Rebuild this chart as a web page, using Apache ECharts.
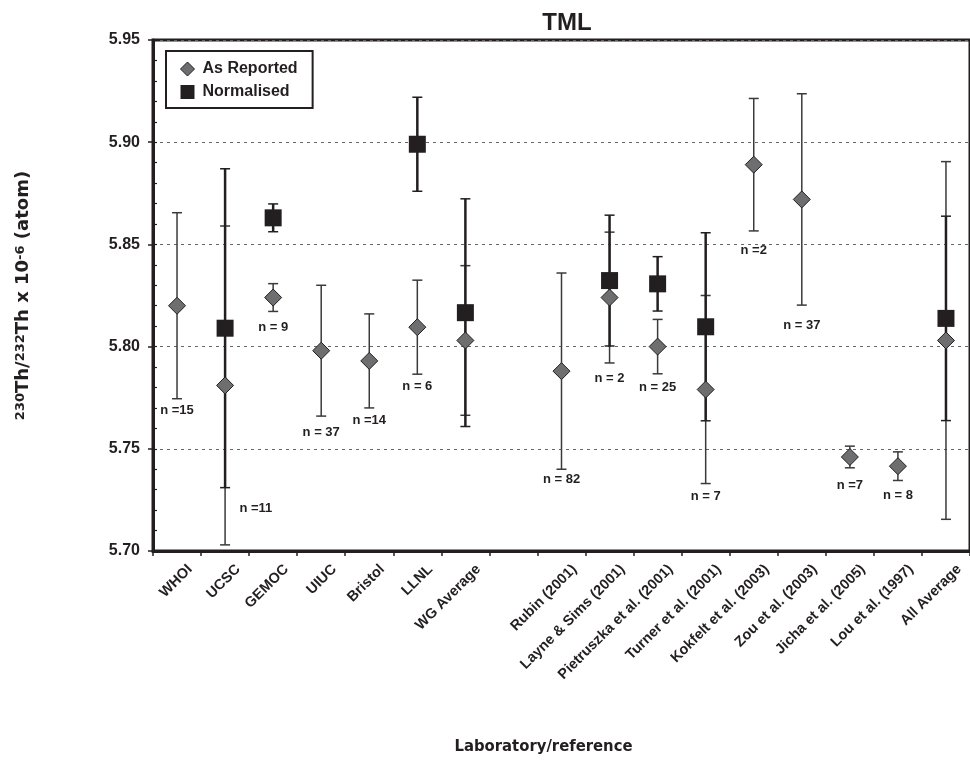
<!DOCTYPE html>
<html><head><meta charset="utf-8">
<script src="https://cdn.jsdelivr.net/npm/echarts@6/dist/echarts.min.js"></script>
<style>html,body{margin:0;padding:0;background:#fff}#c{width:970px;height:760px}</style>
</head><body><div id="c"></div>
<script>
const categories = ['WHOI','UCSC','GEMOC','UIUC','Bristol','LLNL','WG Average','','Rubin (2001)','Layne & Sims (2001)','Pietruszka et al. (2001)','Turner et al. (2001)','Kokfelt et al. (2003)','Zou et al. (2003)','Jicha et al. (2005)','Lou et al. (1997)','All Average'];
const reportedValues = [5.820,5.781,5.824,5.798,5.793,5.8095,5.803,null,5.788,5.824,5.800,5.779,5.889,5.872,5.746,5.7415,5.803];
const reportedErrors = [0.0455,0.078,0.0068,0.032,0.023,0.023,0.0366,null,0.048,0.032,0.0133,0.046,0.0324,0.0517,0.0053,0.007,0.0875];
const normalisedValues = [null,5.809,5.863,null,null,5.899,5.8166,null,null,5.8323,5.8307,5.8097,null,null,null,null,5.8138];
const normalisedErrors = [null,0.078,0.0068,null,null,0.023,0.0557,null,null,0.032,0.0133,0.046,null,null,null,null,0.050];
const nLabels = ['n =15','n =11','n = 9','n = 37','n =14','n = 6','n = 82','n = 2','n = 25','n = 7','n =2','n = 37','n =7','n = 8'];
const nLabelX = [0,1.64,2,3,4,5,8,9,10,11,12,13,14,15];
const nLabelY = [5.7689,5.7210,5.8094,5.7581,5.7640,5.7806,5.7348,5.7845,5.7802,5.7265,5.8471,5.8105,5.7319,5.7270];
const yMin = 5.70, yMax = 5.95, yStep = 0.05, yMinorStep = 0.01;

const F = '"Liberation Sans", Arial, sans-serif';
const chart = echarts.init(document.getElementById('c'), null, {renderer:'canvas'});

function errData(vals, errs){
  const out = [];
  vals.forEach((v,i)=>{ if(v!=null) out.push([i, v, errs[i]]); });
  return out;
}
function errRender(color, width){
  return function(params, api){
    const x = api.value(0), v = api.value(1), e = api.value(2);
    const t = api.coord([x, v+e]), b = api.coord([x, v-e]);
    const hw = 5;
    return {type:'group', children:[
      {type:'line', shape:{x1:t[0],y1:t[1],x2:b[0],y2:b[1]}, style:{stroke:color,lineWidth:width}},
      {type:'line', shape:{x1:t[0]-hw,y1:t[1],x2:t[0]+hw,y2:t[1]}, style:{stroke:color,lineWidth:1.5}},
      {type:'line', shape:{x1:b[0]-hw,y1:b[1],x2:b[0]+hw,y2:b[1]}, style:{stroke:color,lineWidth:1.5}}
    ]};
  };
}

const option = {
  animation:false,
  backgroundColor:'#fff',
  title:{text:'TML', left:562, top:6, textAlign:'center',
    textStyle:{fontFamily:F, fontSize:24, fontWeight:'bold', color:'#231f20'}},
  legend:{
    left:166, top:51, orient:'vertical',
    backgroundColor:'#fff', borderColor:'#231f20', borderWidth:2,
    padding:[10,15,8,14], itemGap:7, itemWidth:14, itemHeight:14,
    textStyle:{fontFamily:F, fontSize:16, fontWeight:'bold', color:'#231f20', padding:[0,0,0,3]},
    data:[
      {name:'As Reported', icon:'diamond', itemStyle:{color:'#6d6e70', borderColor:'#231f20', borderWidth:1}},
      {name:'Normalised', icon:'rect', itemStyle:{color:'#231f20'}}
    ]
  },
  grid:{left:153, top:40, width:824, height:512, show:true, borderColor:'#231f20', borderWidth:3, backgroundColor:'transparent'},
  xAxis:[
    {type:'category', data:categories, boundaryGap:true,
      axisLine:{onZero:false, lineStyle:{color:'#231f20', width:3}},
      axisTick:{show:true, length:5, lineStyle:{color:'#231f20', width:1.5}},
      axisLabel:{interval:0, rotate:45, margin:3, align:'right', verticalAlign:'top', padding:[11,0,0,0],
        fontFamily:F, fontSize:14.5, fontWeight:'bold', color:'#231f20'},
      splitLine:{show:false},
      name:'Laboratory/reference', nameLocation:'middle', nameGap:187,
      nameTextStyle:{fontFamily:'"DejaVu Sans Condensed","DejaVu Sans", sans-serif', fontSize:16.5, fontWeight:'bold', color:'#231f20', padding:[0,36,0,0]}
    },
    {type:'value', min:-0.5, max:categories.length-0.5, show:false, axisLine:{onZero:false}}
  ],
  yAxis:[
    {type:'value', min:yMin, max:yMax, interval:yStep,
      axisLine:{show:true, onZero:false, lineStyle:{color:'#231f20', width:3}},
      axisTick:{show:true, length:5, lineStyle:{color:'#231f20', width:1.5}},
      axisLabel:{margin:13, formatter:v=>v.toFixed(2), fontFamily:F, fontSize:16, fontWeight:'bold', color:'#231f20'},
      splitLine:{show:true, lineStyle:{color:'#666', width:1, type:[3,4]}},
      name:'{s|230}Th/{s|232}Th x 10{s|-6} (atom)', nameLocation:'middle', nameGap:121, nameRotate:90,
      nameTextStyle:{fontFamily:'"DejaVu Sans", sans-serif', fontSize:18, fontWeight:'bold', color:'#231f20',
        rich:{s:{fontFamily:'"DejaVu Sans", sans-serif', fontSize:13, fontWeight:'bold', color:'#231f20', verticalAlign:'top', padding:[0,0,5,0]}}}
    },
    {type:'value', min:yMin, max:yMax, interval:yMinorStep, position:'left',
      axisLine:{show:false, onZero:false}, axisLabel:{show:false}, splitLine:{show:false},
      axisTick:{show:true, inside:true, length:4, lineStyle:{color:'#231f20', width:1.2}}
    }
  ],
  series:[
    {name:'As Reported err', type:'custom', xAxisIndex:1, yAxisIndex:0, z:2,
      renderItem:errRender('#3a3a3c', 1.5), data:errData(reportedValues, reportedErrors), encode:{x:0,y:1}, silent:true},
    {name:'Normalised err', type:'custom', xAxisIndex:1, yAxisIndex:0, z:3,
      renderItem:errRender('#231f20', 2.5), data:errData(normalisedValues, normalisedErrors), encode:{x:0,y:1}, silent:true},
    {name:'Normalised', type:'scatter', xAxisIndex:0, yAxisIndex:0, z:4, symbol:'rect', symbolSize:17,
      itemStyle:{color:'#231f20', opacity:1}, data:normalisedValues.map(v=>v==null?'-':v)},
    {name:'As Reported', type:'scatter', xAxisIndex:0, yAxisIndex:0, z:5, symbol:'diamond', symbolSize:17,
      itemStyle:{color:'#6d6e70', borderColor:'#231f20', borderWidth:1, opacity:1}, data:reportedValues.map(v=>v==null?'-':v)},
    {name:'n labels', type:'custom', xAxisIndex:1, yAxisIndex:0, z:6, silent:true,
      data:nLabelX.map((x,i)=>[x, nLabelY[i], i]), encode:{x:0,y:1},
      renderItem:function(params, api){
        const p = api.coord([api.value(0), api.value(1)]);
        return {type:'text', x:p[0], y:p[1], style:{text:nLabels[api.value(2)], fill:'#231f20', font:'bold 13px '+F, textAlign:'center', textVerticalAlign:'middle'}};
      }}
  ]
};
chart.setOption(option);
</script></body></html>
